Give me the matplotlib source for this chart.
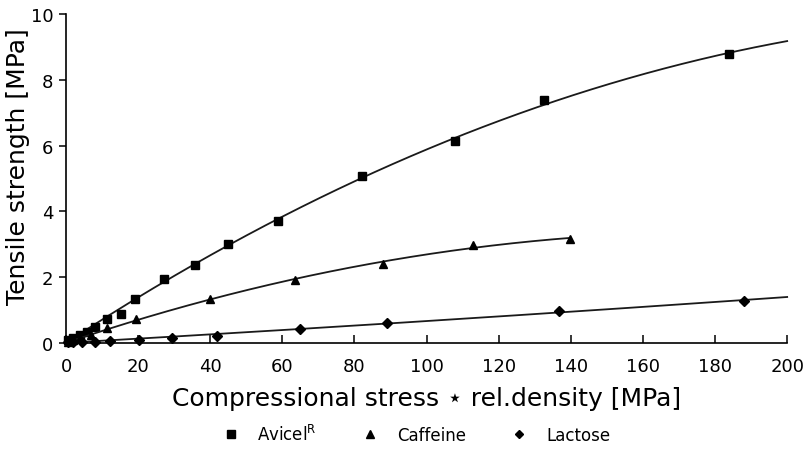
import numpy as np
import matplotlib
matplotlib.use('Agg')
import matplotlib.pyplot as plt

plt.rcParams['font.family'] = ['DejaVu Sans']

# Avicel (squares)
avicel_x = [0.6, 2.0, 3.9, 5.8, 8.0, 11.3, 15.3, 19.1, 27.2, 35.8, 44.9, 58.8, 82.1, 107.9, 132.6, 184.0]
avicel_y = [0.09, 0.15, 0.24, 0.34, 0.49, 0.73, 0.88, 1.34, 1.95, 2.38, 3.02, 3.72, 5.06, 6.13, 7.38, 8.78]
# Caffeine (triangles)
caffeine_x = [0.5, 2.0, 4.0, 7.0, 11.3, 19.4, 40.0, 63.6, 88.0, 113.0, 139.8]
caffeine_y = [0.04, 0.08, 0.14, 0.25, 0.45, 0.73, 1.33, 1.92, 2.40, 2.97, 3.17]
# Lactose (diamonds)
lactose_x = [0.5, 2.0, 4.4, 8.0, 12.2, 20.3, 29.4, 41.9, 65.0, 89.0, 136.8, 188.0]
lactose_y = [0.01, 0.02, 0.03, 0.04, 0.05, 0.09, 0.15, 0.22, 0.43, 0.61, 0.98, 1.27]

series = [
    ('Avicel$^{\\mathregular{R}}$', avicel_x, avicel_y, 's', 200),
    ('Caffeine', caffeine_x, caffeine_y, '^', 140),
    ('Lactose', lactose_x, lactose_y, 'D', 200),
]

fig = plt.figure(figsize=(8.09, 4.56), dpi=100)
ax = fig.add_axes([0.0816, 0.246, 0.8914, 0.721])

for label, xs, ys, mk, xmax in series:
    xs = np.array(xs)
    ys = np.array(ys)
    # smooth trend through the origin: y = a*x + b*x^2
    A = np.vstack([xs, xs ** 2]).T
    a, b = np.linalg.lstsq(A, ys, rcond=None)[0]
    xf = np.linspace(0, xmax, 200)
    ax.plot(xf, a * xf + b * xf ** 2, color='#1a1a1a', lw=1.3, clip_on=False)
    ms = 6 if mk != 'D' else 5
    ax.plot(xs, ys, mk, color='black', ms=ms, clip_on=False, label=label,
            linestyle='none')

ax.set_xlim(0, 200)
ax.set_ylim(0, 10)
ax.set_xticks(np.arange(0, 201, 20))
ax.set_yticks(np.arange(0, 11, 2))
ax.spines['top'].set_visible(False)
ax.spines['right'].set_visible(False)
for s in ['left', 'bottom']:
    ax.spines[s].set_linewidth(1.2)
ax.tick_params(axis='x', direction='in', length=6, width=1.1, labelsize=13, pad=10)
ax.tick_params(axis='y', direction='out', length=5, width=1.1, labelsize=13, pad=4)

ax.set_xlabel('Compressional stress \u22c6 rel.density [MPa]', fontsize=18, labelpad=8)
ax.set_ylabel('Tensile strength [MPa]', fontsize=18)
ax.yaxis.set_label_coords(-0.05, 0.54)

ax.legend(loc='upper center', bbox_to_anchor=(0.48, -0.2), ncol=3, frameon=False,
          fontsize=12, handletextpad=0.6, columnspacing=2.2, markerscale=0.9)

fig.savefig('out.png', dpi=100)
